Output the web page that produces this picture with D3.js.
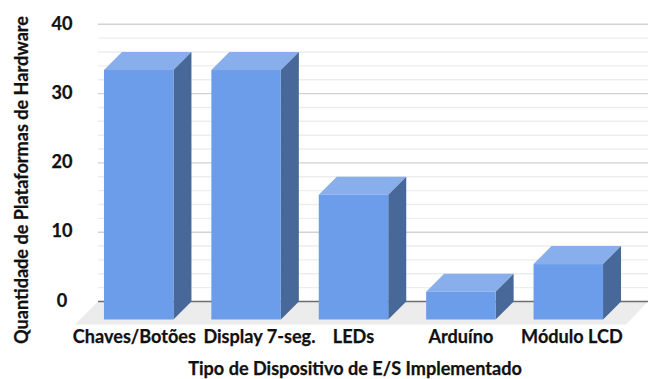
<!DOCTYPE html>
<html>
<head>
<meta charset="utf-8">
<script src="https://cdn.jsdelivr.net/npm/d3@7/dist/d3.min.js"></script>
<style>
html,body{margin:0;padding:0;background:#fff}
svg{display:block}
text{font-family:Lato,"Open Sans",sans-serif;font-weight:700;fill:#111;stroke:#111;stroke-width:0.25px}
</style>
</head>
<body>
<svg id="chart" width="648" height="379"></svg>
<script>
const categories = ["Chaves/Botões", "Display 7-seg.", "LEDs", "Arduíno", "Módulo LCD"];
const counts = [36, 36, 18, 4, 8];
const majorTicks = [0, 10, 20, 30, 40];
const minorTicks = [2, 4, 6, 8, 12, 14, 16, 18, 22, 24, 26, 28, 32, 34, 36, 38];
const xLabel = "Tipo de Dispositivo de E/S Implementado";
const yLabel = "Quantidade de Plataformas de Hardware";

// Oblique projection: the front plane sits down and to the left of the back wall.
const depth = 18;
const wall = {left: 98, right: 648};
const floorOverhang = 5;
const svg = d3.select("#chart");

const y = d3.scaleLinear().domain([0, 40]).range([301.5, 24.3]);
const x = d3.scaleBand().domain(categories).range([85, 622]).paddingInner(0.353).paddingOuter(0.1765);

// Horizontal nudges for the category labels, in pixels from the bar's centre.
const labelShift = [-4.3, 13.3, 0, 0, 3.6];
const labelStyle = "font-size:18.1px;font-family:Lato,'Open Sans',sans-serif";

// Floor
svg.append("path")
  .attr("fill", "#ececec")
  .attr("d", d3.line()([
    [wall.left, y(0)], [wall.right, y(0)],
    [wall.right - depth - 4, y(0) + depth + floorOverhang],
    [wall.left - depth - 5, y(0) + depth + floorOverhang]
  ]));

// Wall gridlines
svg.append("g").selectAll("line").data(minorTicks).join("line")
  .attr("x1", wall.left).attr("x2", wall.right)
  .attr("y1", d => y(d)).attr("y2", d => y(d))
  .attr("stroke", "#ededed").attr("stroke-width", 1.4);
svg.append("g").selectAll("line").data(majorTicks).join("line")
  .attr("x1", wall.left).attr("x2", wall.right)
  .attr("y1", d => y(d)).attr("y2", d => y(d))
  .attr("stroke", d => d === 0 ? "#6e6e6e" : "#d2d2d2").attr("stroke-width", 1.4);

// Bars: top, side and front faces
const frontBase = y(0) + depth;
const frontY = v => y(v) + depth;
const line = d3.line();
const bars = svg.append("g").selectAll("g").data(categories.map((c, i) => ({c, v: counts[i]}))).join("g");
bars.append("path").attr("fill", "#88aeec").attr("d", d => {
  const a = x(d.c), b = a + x.bandwidth(), t = frontY(d.v);
  return line([[a, t], [b, t], [b + depth, t - depth], [a + depth, t - depth]]) + "Z";
});
bars.append("path").attr("fill", "#48689a").attr("d", d => {
  const b = x(d.c) + x.bandwidth(), t = frontY(d.v);
  return line([[b, t], [b + depth, t - depth], [b + depth, frontBase - depth], [b, frontBase]]) + "Z";
});
bars.append("rect").attr("fill", "#6c9dea")
  .attr("x", d => x(d.c)).attr("width", x.bandwidth())
  .attr("y", d => frontY(d.v)).attr("height", d => frontBase - frontY(d.v));

// Value axis
const yAxis = svg.append("g").attr("transform", "translate(74,-1)")
  .call(d3.axisLeft(y).tickValues(majorTicks).tickSize(0).tickPadding(0));
yAxis.select(".domain").remove();
yAxis.selectAll("text").attr("x", -12).attr("text-anchor", "middle")
  .attr("style", labelStyle);

// Category axis
const xAxis = svg.append("g").attr("transform", "translate(0,337)")
  .call(d3.axisBottom(x).tickSize(0).tickPadding(0));
xAxis.select(".domain").remove();
xAxis.selectAll("text")
  .attr("y", 0).attr("dy", "0.35em")
  .attr("x", (d, i) => labelShift[i])
  .attr("style", labelStyle);

// Axis titles
svg.append("text").attr("x", 355).attr("y", 369).attr("dy", "0.35em")
  .attr("text-anchor", "middle").attr("style", labelStyle).text(xLabel);
svg.append("text").attr("transform", "translate(22,180) rotate(-90)").attr("dy", "0.35em")
  .attr("text-anchor", "middle").attr("style", labelStyle).text(yLabel);
</script>
</body>
</html>
